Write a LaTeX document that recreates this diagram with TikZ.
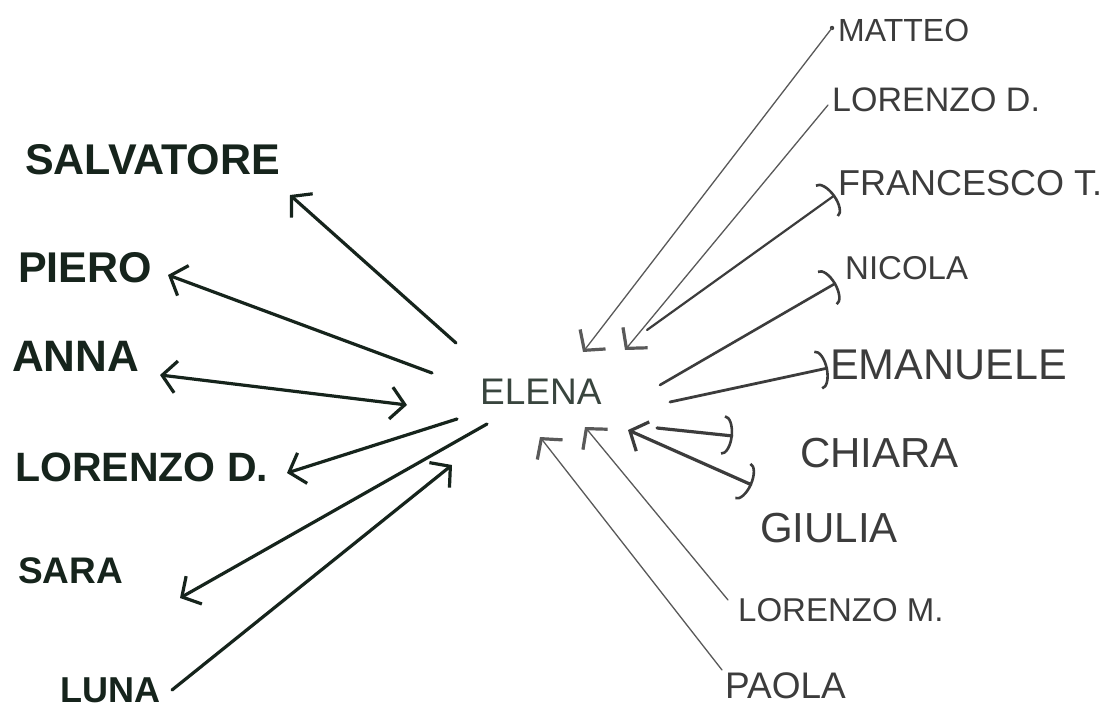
\documentclass[tikz,border=0pt]{standalone}
\usepackage{fontspec}
\setmainfont{Liberation Sans}
\usetikzlibrary{arrows.meta}
\definecolor{ink}{HTML}{16241C}
\definecolor{grayink}{HTML}{3C3C3C}
\newcommand\fsz[1]{\fontsize{#1}{#1}\selectfont}
\tikzset{
  lbl/.style={anchor=west, inner sep=0pt, text=ink},
  rlbl/.style={anchor=west, inner sep=0pt, text=grayink},
  heavy/.style={draw=ink, line width=3.2pt, line cap=round},
  mid/.style={draw=grayink, line width=2.2pt, line cap=round},
  thin/.style={draw=grayink!85, line width=1.3pt, line cap=round},
  barb/.tip={Straight Barb[length=14pt,width=32pt,line width=3.2pt]},
  hook/.tip={Arc Barb[length=10pt,width=40pt,line width=2.6pt]},
}
\begin{document}
\begin{tikzpicture}[x=1pt,y=-1pt]
\useasboundingbox (0,0) rectangle (1113,711);
\fill[white] (0,0) rectangle (1113,711);

% central node
\node[rlbl, text=ink!85] (elena) at (480,392) {\fsz{37}ELENA};

% left labels
\node[lbl] (salv) at (25,160) {\fsz{43}\bfseries SALVATORE};
\node[lbl] (piero) at (18,268) {\fsz{43}\bfseries PIERO};
\node[lbl] (anna) at (12,356) {\fsz{44}\bfseries ANNA};
\node[lbl] (lorl) at (15,467) {\fsz{41}\bfseries LORENZO D.};
\node[lbl] (sara) at (18,571) {\fsz{37}\bfseries SARA};
\node[lbl] (luna) at (60,690) {\fsz{36}\bfseries LUNA};

% right labels
\node[rlbl] (matteo) at (838,30) {\fsz{32}MATTEO};
\node[rlbl] (lorr) at (832,100) {\fsz{34}LORENZO D.};
\node[rlbl] (franc) at (838,183) {\fsz{36}FRANCESCO T.};
\node[rlbl] (nicola) at (845,268) {\fsz{33}NICOLA};
\node[rlbl] (eman) at (830,365) {\fsz{43}EMANUELE};
\node[rlbl] (chiara) at (800,453) {\fsz{42}CHIARA};
\node[rlbl] (giulia) at (760,528) {\fsz{42}GIULIA};
\node[rlbl] (lorm) at (738,610) {\fsz{33}LORENZO M.};
\node[rlbl] (paola) at (725,686) {\fsz{37}PAOLA};

% connector end points
\coordinate (eS) at (456,343);  \coordinate (tS) at (290,195);
\coordinate (eP) at (432,373);  \coordinate (tP) at (168,275);
\coordinate (eA) at (407,405);  \coordinate (tA) at (160,375);
\coordinate (eL) at (457,419);  \coordinate (tL) at (287,473);
\coordinate (eSa) at (487,424); \coordinate (tSa) at (180,598);
\coordinate (eLu) at (452,465); \coordinate (tLu) at (172,690);
\coordinate (eM) at (583,352);  \coordinate (tM) at (832,28);
\coordinate (eLr) at (625,350); \coordinate (tLr) at (828,105);
\coordinate (eF) at (647,330);  \coordinate (tF) at (835,195);
\coordinate (eN) at (660,385);  \coordinate (tN) at (836,283);
\coordinate (eE) at (670,402);  \coordinate (tE) at (828,368);
\coordinate (eC) at (657,428);  \coordinate (tC) at (733,436);
\coordinate (eG) at (628,430);  \coordinate (tG) at (752,485);
\coordinate (eLm) at (585,427); \coordinate (tLm) at (728,600);
\coordinate (ePa) at (540,437); \coordinate (tPa) at (722,670);

% left connectors
\draw[heavy,-barb] (eS) -- (tS);
\draw[heavy,-barb] (eP) -- (tP);
\draw[heavy,barb-barb] (tA) -- (eA);
\draw[heavy,-barb] (eL) -- (tL);
\draw[heavy,-barb] (eSa) -- (tSa);
\draw[heavy,-barb] (tLu) -- (eLu);

% right connectors
\fill[grayink] (tM) circle (2.2pt);
\draw[thin,-barb] (tM) -- (eM);
\draw[thin,-barb] (tLr) -- (eLr);
\draw[mid,-hook] (eF) -- (tF);
\draw[mid,line width=2.6pt,-hook] (eN) -- (tN);
\draw[mid,line width=2.8pt,-hook] (eE) -- (tE);
\draw[heavy,draw=grayink,-hook] (eC) -- (tC);
\draw[heavy,draw=grayink,barb-hook] (eG) -- (tG);
\draw[thin,-barb] (tLm) -- (eLm);
\draw[thin,-barb] (tPa) -- (ePa);
\end{tikzpicture}
\end{document}
